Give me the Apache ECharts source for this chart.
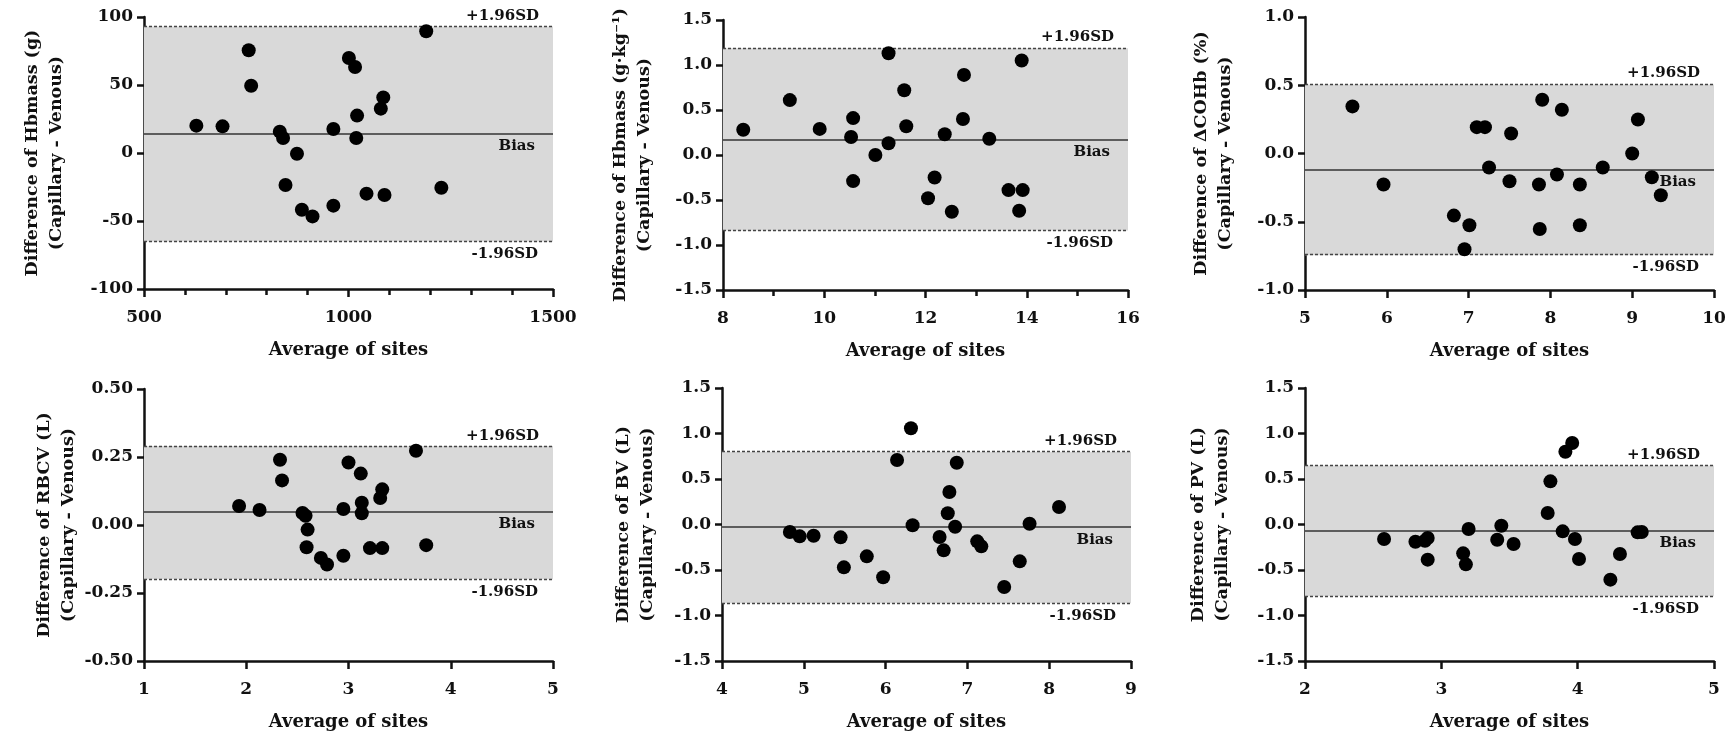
<!DOCTYPE html>
<html>
<head>
<meta charset="utf-8">
<style>html,body{margin:0;padding:0;background:#fff}#c{width:1733px;height:736px}</style>
<script src="https://cdn.jsdelivr.net/npm/echarts@6/dist/echarts.min.js"></script>
</head>
<body>
<div id="c"></div>
<script>
// ---- Data ----
const hbmassAbsX = [628, 692, 756, 762, 832, 840, 846, 874, 886, 912, 963, 963, 1001, 1016, 1021, 1019, 1044, 1079, 1085, 1088, 1190, 1227];
const hbmassAbsY = [20.1, 19.6, 75.5, 49.5, 15.7, 11, -23.5, -0.5, -41.7, -46.6, 17.6, -38.7, 69.9, 63.2, 27.5, 11, -29.9, 32.6, 40.9, -30.9, 89.5, -25.5];
const hbmassAbsLimits = [-65, 14, 93];  // lower LoA, bias, upper LoA

const hbmassRelX = [8.40, 9.32, 9.91, 10.57, 10.53, 10.57, 11.01, 11.27, 11.27, 11.58, 11.62, 12.05, 12.18, 12.38, 12.52, 12.76, 12.74, 13.26, 13.64, 13.90, 13.92, 13.85];
const hbmassRelY = [0.28, 0.61, 0.29, 0.41, 0.20, -0.29, 0.00, 1.13, 0.13, 0.72, 0.32, -0.48, -0.25, 0.23, -0.63, 0.89, 0.40, 0.18, -0.39, 1.05, -0.39, -0.62];
const hbmassRelLimits = [-0.84, 0.17, 1.185];

const cohbX = [5.58, 5.96, 6.82, 7.01, 6.95, 7.10, 7.20, 7.25, 7.52, 7.50, 7.90, 7.86, 7.87, 8.08, 8.14, 8.36, 8.36, 8.64, 9.00, 9.07, 9.24, 9.35];
const cohbY = [0.345, -0.227, -0.455, -0.526, -0.702, 0.193, 0.193, -0.103, 0.147, -0.203, 0.394, -0.227, -0.553, -0.154, 0.32, -0.227, -0.526, -0.103, 0.0, 0.249, -0.174, -0.306];
const cohbLimits = [-0.745, -0.12, 0.505];

const rbcvX = [1.93, 2.13, 2.33, 2.35, 2.55, 2.58, 2.60, 2.59, 2.73, 2.79, 2.95, 2.95, 3.00, 3.12, 3.13, 3.13, 3.21, 3.31, 3.33, 3.33, 3.66, 3.76];
const rbcvY = [0.07, 0.055, 0.24, 0.164, 0.044, 0.034, -0.017, -0.082, -0.121, -0.145, 0.059, -0.113, 0.23, 0.189, 0.082, 0.043, -0.085, 0.099, 0.131, -0.085, 0.273, -0.074];
const rbcvLimits = [-0.199, 0.047, 0.29];

const bvX = [4.83, 4.95, 5.12, 5.45, 5.49, 5.77, 5.97, 6.14, 6.31, 6.33, 6.66, 6.71, 6.76, 6.78, 6.85, 6.87, 7.12, 7.17, 7.45, 7.64, 7.76, 8.12];
const bvY = [-0.082, -0.13, -0.123, -0.141, -0.471, -0.35, -0.58, 0.709, 1.057, -0.009, -0.137, -0.284, 0.123, 0.357, -0.024, 0.679, -0.185, -0.24, -0.687, -0.405, 0.009, 0.192];
const bvLimits = [-0.866, -0.031, 0.80];

const pvX = [2.58, 2.81, 2.88, 2.90, 2.90, 3.16, 3.18, 3.20, 3.41, 3.44, 3.53, 3.78, 3.80, 3.89, 3.91, 3.96, 3.98, 4.01, 4.24, 4.31, 4.44, 4.47];
const pvY = [-0.159, -0.189, -0.178, -0.148, -0.386, -0.317, -0.438, -0.049, -0.167, -0.013, -0.214, 0.126, 0.474, -0.075, 0.80, 0.896, -0.159, -0.379, -0.606, -0.324, -0.086, -0.082];
const pvLimits = [-0.789, -0.071, 0.647];

// Axis ranges: [min, max, interval]
const xRanges = [[500, 1500, 500], [8, 16, 2], [5, 10, 1], [1, 5, 1], [4, 9, 1], [2, 5, 1]];
const xMinorSplit = [5, 2, 0, 0, 0, 0];
const yRanges = [[-100, 100, 50], [-1.5, 1.5, 0.5], [-1.0, 1.0, 0.5], [-0.5, 0.5, 0.25], [-1.5, 1.5, 0.5], [-1.5, 1.5, 0.5]];
const yDecimals = [0, 1, 1, 2, 1, 1];
const yTitles = [
  'Difference of Hbmass (g)\n(Capillary - Venous)',
  'Difference of Hbmass (g\u00B7kg\u207B\u00B9)\n(Capillary - Venous)',
  'Difference of \u0394COHb (%)\n(Capillary - Venous)',
  'Difference of RBCV (L)\n(Capillary - Venous)',
  'Difference of BV (L)\n(Capillary - Venous)',
  'Difference of PV (L)\n(Capillary - Venous)'
];
const xTitle = 'Average of sites';
const upperLabel = '+1.96SD', lowerLabel = '-1.96SD', biasLabel = 'Bias';

const panelsX = [hbmassAbsX, hbmassRelX, cohbX, rbcvX, bvX, pvX];
const panelsY = [hbmassAbsY, hbmassRelY, cohbY, rbcvY, bvY, pvY];
const panelsLim = [hbmassAbsLimits, hbmassRelLimits, cohbLimits, rbcvLimits, bvLimits, pvLimits];

// ---- Layout ----
const grids = [
  {left: 144, top: 17, width: 409, height: 272},
  {left: 723, top: 20, width: 405, height: 270},
  {left: 1305, top: 17, width: 409, height: 273},
  {left: 144, top: 389, width: 409, height: 272},
  {left: 722, top: 388, width: 409, height: 273},
  {left: 1305, top: 388, width: 409, height: 273}
];
const yNameGaps = [76, 67, 68, 63, 63, 71];

const FONT = 'DejaVu Serif';
const INK = '#111';

const xAxes = [], yAxes = [], series = [];
for (let i = 0; i < 6; i++) {
  const [xmin, xmax, xint] = xRanges[i];
  const [ymin, ymax, yint] = yRanges[i];
  xAxes.push({
    type: 'value', gridIndex: i, min: xmin, max: xmax, interval: xint,
    name: xTitle, nameLocation: 'middle', nameGap: 52,
    nameTextStyle: {fontFamily: FONT, fontWeight: 'bold', fontSize: 18, color: INK},
    axisLine: {show: true, onZero: false, lineStyle: {color: INK, width: 2.5}},
    axisTick: {show: true, length: 8, lineStyle: {color: INK, width: 2.5}},
    minorTick: {show: xMinorSplit[i] > 0, splitNumber: xMinorSplit[i] || 5, length: 6, lineStyle: {color: INK, width: 2.5}},
    axisLabel: {margin: 20, fontFamily: FONT, fontWeight: 'bold', fontSize: 17, color: INK,
      formatter: (v) => String(v)},
    splitLine: {show: false}
  });
  yAxes.push({
    type: 'value', gridIndex: i, min: ymin, max: ymax, interval: yint,
    name: yTitles[i], nameLocation: 'middle', nameRotate: 90, nameGap: yNameGaps[i],
    nameTextStyle: {fontFamily: FONT, fontWeight: 'bold', fontSize: 17.5, lineHeight: 24, color: INK, align: 'center'},
    axisLine: {show: true, onZero: false, lineStyle: {color: INK, width: 2.5}},
    axisTick: {show: true, length: 7, lineStyle: {color: INK, width: 2.5}},
    axisLabel: {margin: 11, fontFamily: FONT, fontWeight: 'bold', fontSize: 17, color: INK,
      formatter: (v) => v.toFixed(yDecimals[i])},
    splitLine: {show: false}
  });
  const [lo, bias, hi] = panelsLim[i];
  const lblStyle = {fontFamily: FONT, fontWeight: 'bold', fontSize: 15, color: INK};
  series.push({
    type: 'scatter', xAxisIndex: i, yAxisIndex: i,
    data: panelsX[i].map((x, k) => [x, panelsY[i][k]]),
    symbol: 'circle', symbolSize: 14,
    itemStyle: {color: '#000', opacity: 1},
    z: 5,
    markArea: {
      silent: true,
      itemStyle: {color: '#d9d9d9'},
      data: [[{yAxis: lo}, {yAxis: hi}]]
    },
    markLine: {
      silent: true, symbol: ['none', 'none'],
      data: [
        {yAxis: hi, lineStyle: {type: [3, 2], color: '#444', width: 1.4},
         label: Object.assign({show: true, position: 'insideEndTop', formatter: upperLabel, distance: [14, 3]}, lblStyle)},
        {yAxis: bias, lineStyle: {type: 'solid', color: '#333', width: 1.5},
         label: Object.assign({show: true, position: 'insideEndBottom', formatter: biasLabel, distance: [18, 5]}, lblStyle)},
        {yAxis: lo, lineStyle: {type: [3, 2], color: '#444', width: 1.4},
         label: Object.assign({show: true, position: 'insideEndBottom', formatter: lowerLabel, distance: [15, 5]}, lblStyle)}
      ]
    }
  });
}

const chart = echarts.init(document.getElementById('c'), null, {renderer: 'canvas'});
chart.setOption({
  backgroundColor: '#fff',
  animation: false,
  grid: grids,
  xAxis: xAxes,
  yAxis: yAxes,
  series: series
});
</script>
</body>
</html>
